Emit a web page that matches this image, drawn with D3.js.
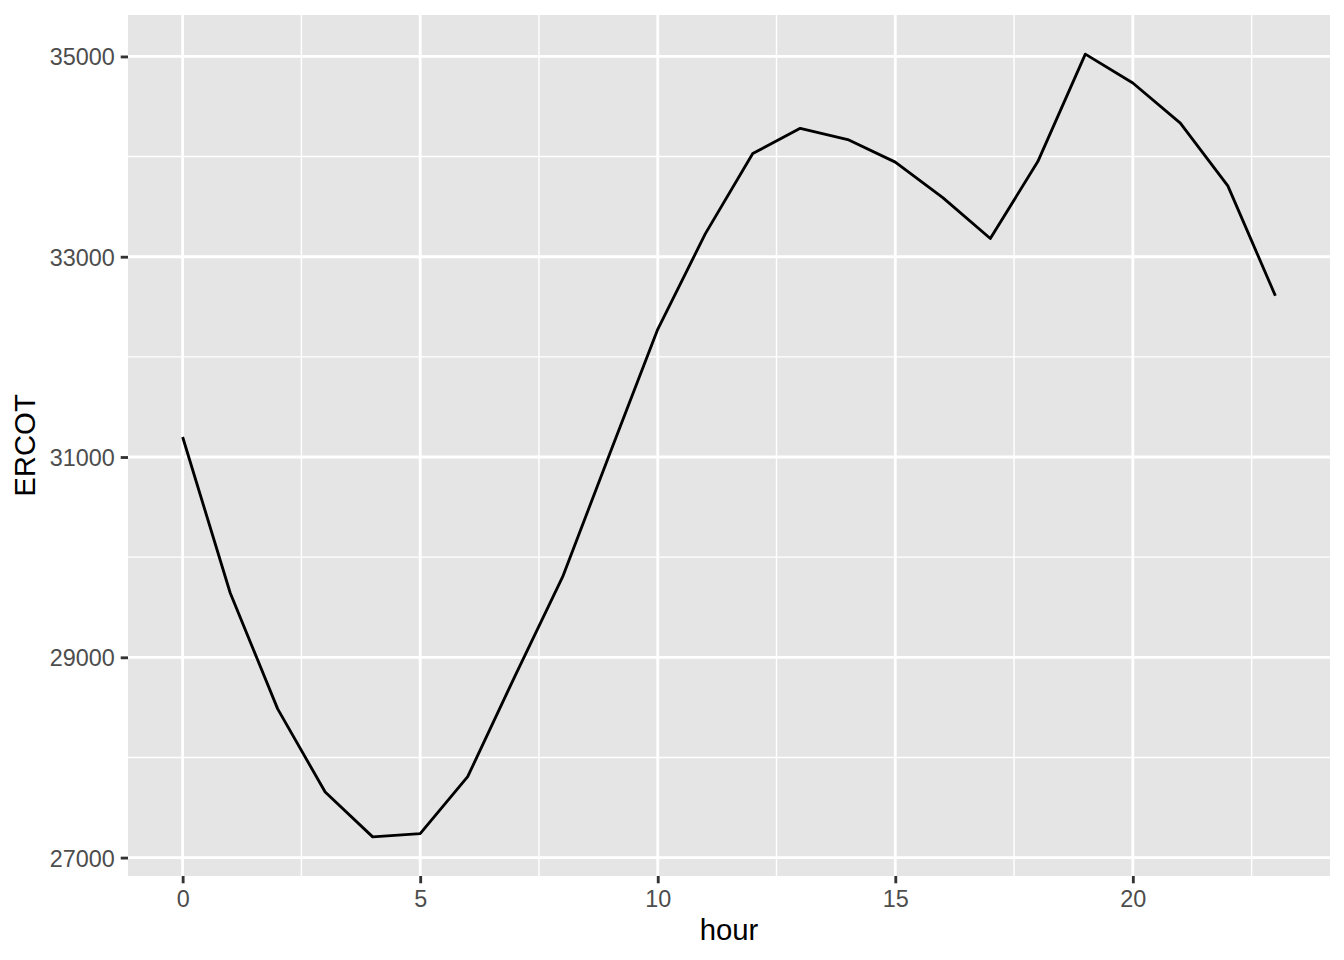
<!DOCTYPE html>
<html>
<head>
<meta charset="utf-8">
<script src="https://cdn.jsdelivr.net/npm/d3@7"></script>
<style>
  body { margin: 0; background: #fff; }
  text { font-family: "Liberation Sans", Arial, sans-serif; }
</style>
</head>
<body>
<div class="holder"></div>
<script>
var hours = [0, 1, 2, 3, 4, 5, 6, 7, 8, 9, 10, 11, 12, 13, 14, 15, 16, 17, 18, 19, 20, 21, 22, 23]
var ercot = [31200, 29645, 28485, 27655, 27207, 27240, 27808, 28818, 29805, 31045, 32275, 33228,
             34030, 34282, 34170, 33945, 33590, 33182, 33950, 35023, 34735, 34335, 33708, 32610]
var xTicks = [0, 5, 10, 15, 20]
var xMinor = [2.5, 7.5, 12.5, 17.5, 22.5]
var yTicks = [27000, 29000, 31000, 33000, 35000]
var yMinor = [28000, 30000, 32000, 34000]

var width = 1344, height = 960
var pLeft = 128, pRight = 1330, pTop = 15, pBottom = 876

var svg = d3.select('.holder')
  .append('svg')
  .attr('width', width)
  .attr('height', height)

// ggplot style 5% expansion
var xr = d3.extent(hours), yr = d3.extent(ercot)
var xPad = (xr[1] - xr[0]) * 0.05, yPad = (yr[1] - yr[0]) * 0.05

var x = d3.scaleLinear()
  .domain([xr[0] - xPad, xr[1] + xPad])
  .range([pLeft, pRight])

var y = d3.scaleLinear()
  .domain([yr[0] - yPad, yr[1] + yPad])
  .range([pBottom, pTop])

svg.append('rect')
  .attr('x', pLeft).attr('y', pTop)
  .attr('width', pRight - pLeft).attr('height', pBottom - pTop)
  .attr('fill', '#E5E5E5')

var grid = svg.append('g')

grid.selectAll('.ymin').data(yMinor).enter().append('line')
  .attr('x1', pLeft).attr('x2', pRight)
  .attr('y1', function(d) { return y(d) }).attr('y2', function(d) { return y(d) })
  .attr('stroke', '#fff').attr('stroke-width', 1.42)

grid.selectAll('.xmin').data(xMinor).enter().append('line')
  .attr('y1', pTop).attr('y2', pBottom)
  .attr('x1', function(d) { return x(d) }).attr('x2', function(d) { return x(d) })
  .attr('stroke', '#fff').attr('stroke-width', 1.42)

grid.selectAll('.ymaj').data(yTicks).enter().append('line')
  .attr('x1', pLeft).attr('x2', pRight)
  .attr('y1', function(d) { return y(d) }).attr('y2', function(d) { return y(d) })
  .attr('stroke', '#fff').attr('stroke-width', 2.85)

grid.selectAll('.xmaj').data(xTicks).enter().append('line')
  .attr('y1', pTop).attr('y2', pBottom)
  .attr('x1', function(d) { return x(d) }).attr('x2', function(d) { return x(d) })
  .attr('stroke', '#fff').attr('stroke-width', 2.85)

var line = d3.line()
  .x(function(d, i) { return x(hours[i]) })
  .y(function(d) { return y(d) })

svg.append('path')
  .datum(ercot)
  .attr('d', line)
  .attr('fill', 'none')
  .attr('stroke', '#000')
  .attr('stroke-width', 2.85)
  .attr('stroke-linejoin', 'round')

// axes
var xAxis = d3.axisBottom(x).tickValues(xTicks).tickSize(7.3).tickPadding(5.9)
var yAxis = d3.axisLeft(y).tickValues(yTicks).tickSize(7.3).tickPadding(5.9).tickFormat(d3.format('d'))

var xg = svg.append('g')
  .attr('transform', 'translate(0,' + pBottom + ')')
  .call(xAxis)
var yg = svg.append('g')
  .attr('transform', 'translate(' + pLeft + ',0)')
  .call(yAxis)

;[xg, yg].forEach(function(g) {
  g.select('.domain').remove()
  g.selectAll('.tick line').attr('stroke', '#333333').attr('stroke-width', 2.85)
  g.selectAll('.tick text')
    .attr('fill', '#4D4D4D')
    .style('font-size', '23.4px')
    .style('font-family', '"Liberation Sans", Arial, sans-serif')
})
xg.selectAll('.tick text').attr('dy', null).attr('y', 30.6)
yg.selectAll('.tick text').attr('dy', '0.36em')

svg.append('text')
  .attr('x', (pLeft + pRight) / 2)
  .attr('y', 940)
  .attr('text-anchor', 'middle')
  .style('font-size', '29.3px')
  .text('hour')

svg.append('text')
  .attr('transform', 'translate(35,' + (pTop + pBottom) / 2 + ') rotate(-90)')
  .attr('text-anchor', 'middle')
  .style('font-size', '29.3px')
  .text('ERCOT')
</script>
</body>
</html>
